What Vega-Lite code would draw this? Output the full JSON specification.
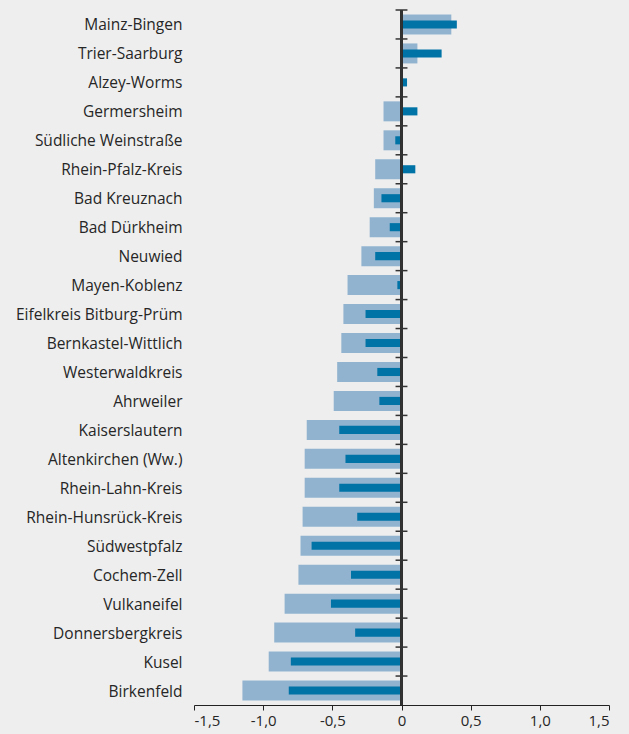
{
  "$schema": "https://vega.github.io/schema/vega-lite/v6.json",
  "width": 415,
  "height": 695,
  "autosize": {"type": "none"},
  "padding": {"left": 194, "top": 10, "right": 20, "bottom": 29},
  "background": "#eeeeee",
  "config": {
    "view": {"stroke": null},
    "font": "Open Sans"
  },
  "data": {
    "values": [
      {"name": "Mainz-Bingen", "a": 0.36, "b": 0.40},
      {"name": "Trier-Saarburg", "a": 0.115, "b": 0.29},
      {"name": "Alzey-Worms", "a": 0, "b": 0.04},
      {"name": "Germersheim", "a": -0.13, "b": 0.115},
      {"name": "Südliche Weinstraße", "a": -0.13, "b": -0.045},
      {"name": "Rhein-Pfalz-Kreis", "a": -0.19, "b": 0.10},
      {"name": "Bad Kreuznach", "a": -0.20, "b": -0.145},
      {"name": "Bad Dürkheim", "a": -0.23, "b": -0.085},
      {"name": "Neuwied", "a": -0.29, "b": -0.19},
      {"name": "Mayen-Koblenz", "a": -0.39, "b": -0.03},
      {"name": "Eifelkreis Bitburg-Prüm", "a": -0.42, "b": -0.26},
      {"name": "Bernkastel-Wittlich", "a": -0.435, "b": -0.26},
      {"name": "Westerwaldkreis", "a": -0.465, "b": -0.175},
      {"name": "Ahrweiler", "a": -0.49, "b": -0.16},
      {"name": "Kaiserslautern", "a": -0.685, "b": -0.45},
      {"name": "Altenkirchen (Ww.)", "a": -0.70, "b": -0.405},
      {"name": "Rhein-Lahn-Kreis", "a": -0.70, "b": -0.45},
      {"name": "Rhein-Hunsrück-Kreis", "a": -0.715, "b": -0.32},
      {"name": "Südwestpfalz", "a": -0.73, "b": -0.65},
      {"name": "Cochem-Zell", "a": -0.745, "b": -0.365},
      {"name": "Vulkaneifel", "a": -0.845, "b": -0.51},
      {"name": "Donnersbergkreis", "a": -0.92, "b": -0.335},
      {"name": "Kusel", "a": -0.96, "b": -0.80},
      {"name": "Birkenfeld", "a": -1.15, "b": -0.815}
    ]
  },
  "layer": [
    {
      "mark": {"type": "bar", "color": "#91b3cf", "height": {"band": 0.69}},
      "encoding": {
        "y": {
          "field": "name",
          "type": "nominal",
          "sort": null,
          "scale": {"paddingInner": 0, "paddingOuter": 0},
          "axis": {
            "title": null,
            "domain": false,
            "ticks": false,
            "labelPadding": 12,
            "labelFontSize": 15.5,
            "labelColor": "#262626",
            "labelBaseline": "middle",
            "labelOffset": 1
          }
        },
        "x": {
          "field": "a",
          "type": "quantitative",
          "scale": {"domain": [-1.5, 1.5], "nice": false},
          "axis": {
            "title": null,
            "grid": false,
            "values": [-1.5, -1, -0.5, 0, 0.5, 1, 1.5],
            "labelExpr": "datum.value == 0 ? '0' : replace(replace(format(datum.value, '.1f'), '.', ','), '−', '-')",
            "domainColor": "#222222",
            "tickColor": "#222222",
            "tickSize": 5,
            "labelFontSize": 15,
            "labelColor": "#262626",
            "labelPadding": 3
          }
        }
      }
    },
    {
      "mark": {"type": "bar", "color": "#0073a6", "height": {"band": 0.28}},
      "encoding": {
        "y": {"field": "name", "type": "nominal", "sort": null},
        "x": {"field": "b", "type": "quantitative"}
      }
    },
    {
      "mark": {"type": "rule", "color": "#333333", "strokeWidth": 1.5},
      "encoding": {
        "x": {"datum": 0}
      }
    },
    {
      "mark": {"type": "rule", "color": "#333333", "strokeWidth": 1.5},
      "encoding": {
        "x": {"datum": -0.043},
        "x2": {"datum": 0.043},
        "y": {"field": "name", "type": "nominal", "sort": null, "bandPosition": 0}
      }
    }
  ]
}
